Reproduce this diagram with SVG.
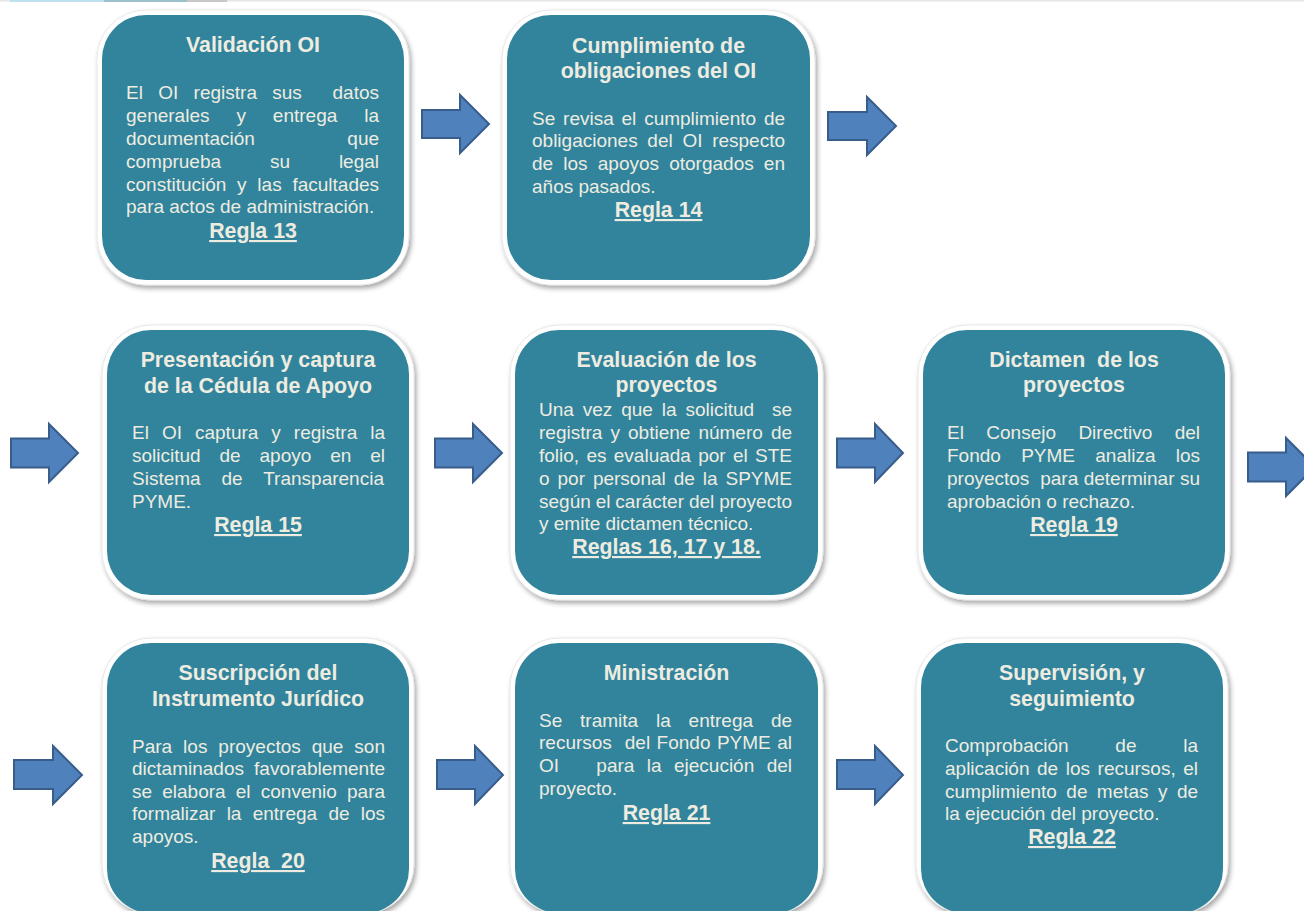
<svg xmlns="http://www.w3.org/2000/svg" width="1304" height="911" viewBox="0 0 1304 911">
<defs>
<style>
.frame{fill:#ffffff;stroke:#e2e2e2;stroke-width:0.8;filter:url(#sh)}
.box{fill:#31849B}
.t{font-family:"Liberation Sans",Arial,sans-serif;font-weight:bold;font-size:21.33px;fill:#EEECE1;text-anchor:middle;white-space:pre}
.b{font-family:"Liberation Sans",Arial,sans-serif;font-size:19px;fill:#EEECE1;white-space:pre}
.r{font-family:"Liberation Sans",Arial,sans-serif;font-weight:bold;font-size:21.33px;fill:#EEECE1;text-anchor:middle;text-decoration:underline;white-space:pre}
.arr{fill:#4F81BD;stroke:#385D8A;stroke-width:2;stroke-linejoin:miter}
</style>
<filter id="sh" x="-10%" y="-10%" width="125%" height="125%">
<feDropShadow dx="2" dy="3" stdDeviation="2.5" flood-color="#000" flood-opacity="0.35"/>
</filter>
</defs>
<rect width="1304" height="911" fill="#ffffff"/>
<rect x="0" y="0" width="1304" height="1.5" fill="#e6e6e6"/>
<rect x="10" y="0" width="94" height="2" fill="#bfe0ee"/>
<rect x="104" y="0" width="83" height="2" fill="#9cbfcc"/>
<rect x="187" y="0" width="40" height="2" fill="#c8c8c8"/>

<g id="connectors">
<polygon class="arr" points="422,110 460,110 460,95 489,124 460,153 460,138 422,138"/>
<polygon class="arr" points="828,112 867,112 867,97 896,126 867,155 867,140 828,140"/>
<polygon class="arr" points="11,438.5 49,438.5 49,424 78,453 49,482 49,467.5 11,467.5"/>
<polygon class="arr" points="435,438.5 473,438.5 473,424 502,453 473,482 473,467.5 435,467.5"/>
<polygon class="arr" points="837,438.5 875,438.5 875,424 903,453 875,482 875,467.5 837,467.5"/>
<polygon class="arr" points="1248,452.5 1286,452.5 1286,438 1315,467 1286,496 1286,481.5 1248,481.5"/>
<polygon class="arr" points="14,760 53,760 53,746 82,775 53,804 53,789 14,789"/>
<polygon class="arr" points="437,760 475,760 475,746 503,775 475,804 475,789 437,789"/>
<polygon class="arr" points="837,760 875,760 875,746 903,775 875,804 875,789 837,789"/>
</g>

<g id="n1">
<rect class="frame" x="97" y="10" width="312" height="275" rx="49"/>
<rect class="box" x="102" y="15" width="302" height="265" rx="44"/>
<text class="t" x="253" y="52">Validación OI</text>
<text class="b" x="126" y="99" style="word-spacing:10.05px">El OI registra sus  datos</text>
<text class="b" x="126" y="122" style="word-spacing:21.67px">generales y entrega la</text>
<text class="b" x="126" y="145" style="word-spacing:87.19px">documentación que</text>
<text class="b" x="126" y="168" style="word-spacing:43.6px">comprueba su legal</text>
<text class="b" x="126" y="191" style="word-spacing:5.48px">constitución y las facultades</text>
<text class="b" x="126" y="213">para actos de administración.</text>
<text class="r" x="253" y="238">Regla 13</text>
</g>

<g id="n2">
<rect class="frame" x="502" y="10" width="313" height="275" rx="49"/>
<rect class="box" x="507" y="15" width="303" height="265" rx="44"/>
<text class="t" x="658.5" y="53">Cumplimiento de</text>
<text class="t" x="658.5" y="78">obligaciones del OI</text>
<text class="b" x="532" y="125" style="word-spacing:2.53px">Se revisa el cumplimiento de</text>
<text class="b" x="532" y="147" style="word-spacing:4.42px">obligaciones del OI respecto</text>
<text class="b" x="532" y="170" style="word-spacing:4.89px">de los apoyos otorgados en</text>
<text class="b" x="532" y="193">años pasados.</text>
<text class="r" x="658.5" y="217">Regla 14</text>
</g>

<g id="n3">
<rect class="frame" x="102" y="325" width="312" height="275" rx="49"/>
<rect class="box" x="107" y="330" width="302" height="265" rx="44"/>
<text class="t" x="258" y="367">Presentación y captura</text>
<text class="t" x="258" y="393">de la Cédula de Apoyo</text>
<text class="b" x="132" y="439" style="word-spacing:7.73px">El OI captura y registra la</text>
<text class="b" x="132" y="462" style="word-spacing:13.61px">solicitud de apoyo en el</text>
<text class="b" x="132" y="485" style="word-spacing:15.62px">Sistema de Transparencia</text>
<text class="b" x="132" y="508">PYME.</text>
<text class="r" x="258" y="532">Regla 15</text>
</g>

<g id="n4">
<rect class="frame" x="510" y="325" width="313" height="275" rx="49"/>
<rect class="box" x="515" y="330" width="303" height="265" rx="44"/>
<text class="t" x="666.5" y="367">Evaluación de los</text>
<text class="t" x="666.5" y="392">proyectos</text>
<text class="b" x="539" y="416" style="word-spacing:3.62px">Una vez que la solicitud  se</text>
<text class="b" x="539" y="439" style="word-spacing:2.79px">registra y obtiene número de</text>
<text class="b" x="539" y="462" style="word-spacing:2.02px">folio, es evaluada por el STE</text>
<text class="b" x="539" y="485" style="word-spacing:2.66px">o por personal de la SPYME</text>
<text class="b" x="539" y="508" style="word-spacing:-0.38px">según el carácter del proyecto</text>
<text class="b" x="539" y="530">y emite dictamen técnico.</text>
<text class="r" x="666.5" y="554">Reglas 16, 17 y 18.</text>
</g>

<g id="n5">
<rect class="frame" x="918" y="325" width="312" height="275" rx="49"/>
<rect class="box" x="923" y="330" width="302" height="265" rx="44"/>
<text class="t" x="1074" y="367">Dictamen  de los</text>
<text class="t" x="1074" y="392">proyectos</text>
<text class="b" x="947" y="439" style="word-spacing:17.11px">El Consejo Directivo del</text>
<text class="b" x="947" y="462" style="word-spacing:14.99px">Fondo PYME analiza los</text>
<text class="b" x="947" y="485" style="word-spacing:0.15px">proyectos  para determinar su</text>
<text class="b" x="947" y="508">aprobación o rechazo.</text>
<text class="r" x="1074" y="532">Regla 19</text>
</g>

<g id="n6">
<rect class="frame" x="102" y="638" width="312" height="275" rx="49"/>
<rect class="box" x="107" y="643" width="302" height="270" rx="44"/>
<text class="t" x="258" y="680">Suscripción del</text>
<text class="t" x="258" y="706">Instrumento Jurídico</text>
<text class="b" x="132" y="753" style="word-spacing:5.69px">Para los proyectos que son</text>
<text class="b" x="132" y="775" style="word-spacing:4.84px">dictaminados favorablemente</text>
<text class="b" x="132" y="798" style="word-spacing:4.9px">se elabora el convenio para</text>
<text class="b" x="132" y="820" style="word-spacing:5.97px">formalizar la entrega de los</text>
<text class="b" x="132" y="843">apoyos.</text>
<text class="r" x="258" y="868">Regla  20</text>
</g>

<g id="n7">
<rect class="frame" x="510" y="638" width="313" height="275" rx="49"/>
<rect class="box" x="515" y="643" width="303" height="270" rx="44"/>
<text class="t" x="666.5" y="680">Ministración</text>
<text class="b" x="539" y="727" style="word-spacing:12.56px">Se tramita la entrega de</text>
<text class="b" x="539" y="749" style="word-spacing:1.18px">recursos  del Fondo PYME al</text>
<text class="b" x="539" y="772" style="word-spacing:7.14px">OI   para la ejecución del</text>
<text class="b" x="539" y="795">proyecto.</text>
<text class="r" x="666.5" y="820">Regla 21</text>
</g>

<g id="n8">
<rect class="frame" x="916" y="638" width="312" height="275" rx="49"/>
<rect class="box" x="921" y="643" width="302" height="270" rx="44"/>
<text class="t" x="1072" y="680">Supervisión, y</text>
<text class="t" x="1072" y="706">seguimiento</text>
<text class="b" x="945" y="752" style="word-spacing:41.49px">Comprobación de la</text>
<text class="b" x="945" y="775" style="word-spacing:2.27px">aplicación de los recursos, el</text>
<text class="b" x="945" y="798" style="word-spacing:4.12px">cumplimiento de metas y de</text>
<text class="b" x="945" y="820">la ejecución del proyecto.</text>
<text class="r" x="1072" y="844">Regla 22</text>
</g>
</svg>
